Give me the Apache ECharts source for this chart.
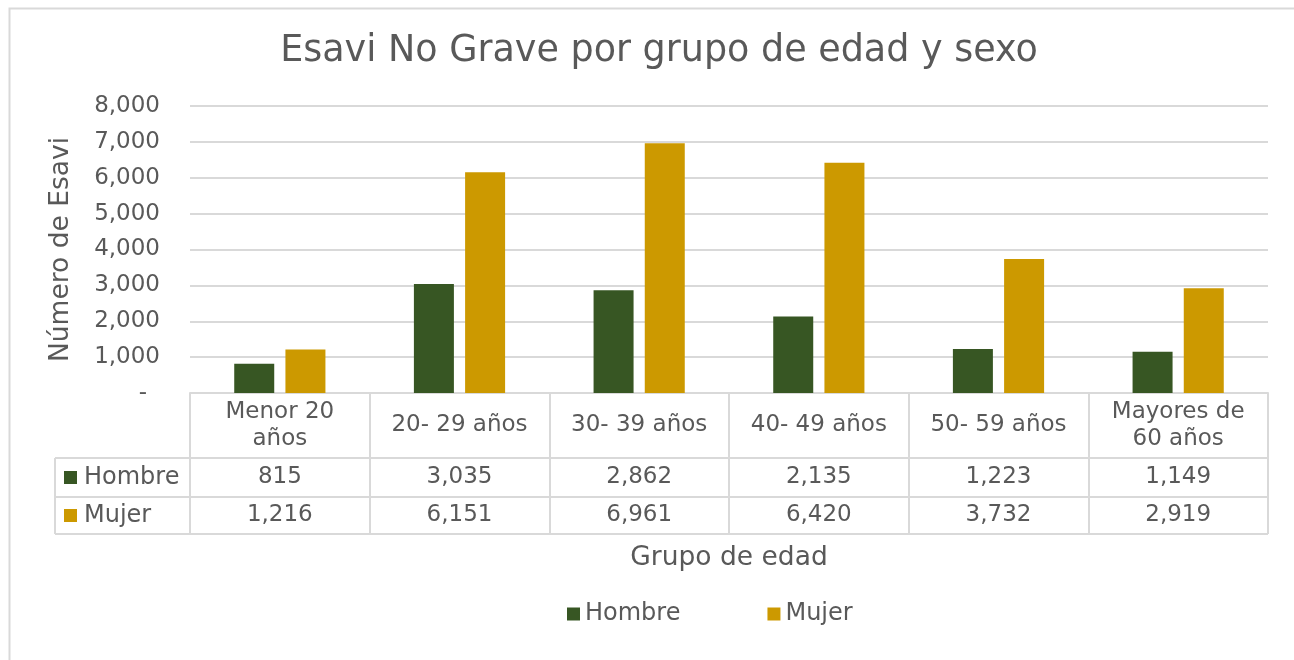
<!DOCTYPE html>
<html>
<head>
<meta charset="utf-8">
<style>
  html, body { margin: 0; padding: 0; background: #fff; }
  #chart { width: 1294px; height: 660px; }
</style>
<script src="https://cdn.jsdelivr.net/npm/echarts@6/dist/echarts.min.js"></script>
</head>
<body>
<div id="chart"></div>
<script>
"use strict";
// ---- data ----
const CATEGORIES = ["Menor 20\naños", "20- 29 años", "30- 39 años", "40- 49 años", "50- 59 años", "Mayores de\n60 años"];
const HOMBRE = [815, 3035, 2862, 2135, 1223, 1149];
const MUJER = [1216, 6151, 6961, 6420, 3732, 2919];
const SERIES_NAMES = ["Hombre", "Mujer"];
const Y_TICKS = { min: 0, max: 8000, step: 1000 };

// ---- look ----
const COLORS = { hombre: "#375623", mujer: "#CC9900", text: "#595959", rule: "#D9D9D9" };
const FONT = "DejaVu Sans";
const W = 1294, H = 660;
const GRID = { left: 190, right: 26, top: 106, bottom: 267 };
const AXIS_Y = H - GRID.bottom;                 // 393
const ROWS = [AXIS_Y, 458, 497, 534];            // table row edges
const TABLE_LEFT = 55;
const fmt = (v) => v.toLocaleString("en-US");

const chart = echarts.init(document.getElementById("chart"), null, { renderer: "canvas" });

// table rules + left-hand legend keys (layout derived from the grid constants)
const right = W - GRID.right;
const rules = ROWS.slice(1).map((y) => ({
  type: "line", shape: { x1: TABLE_LEFT, y1: y, x2: right, y2: y },
  style: { stroke: COLORS.rule, lineWidth: 2 } }));
rules.push({ type: "line", shape: { x1: TABLE_LEFT, y1: ROWS[1], x2: TABLE_LEFT, y2: ROWS[3] },
  style: { stroke: COLORS.rule, lineWidth: 2 } });
const keys = [];
[COLORS.hombre, COLORS.mujer].forEach((c, i) => {
  const cy = (ROWS[i + 1] + ROWS[i + 2]) / 2;
  keys.push({ type: "rect", shape: { x: 64, y: cy - 6.5, width: 13, height: 13 }, style: { fill: c } });
  keys.push({ type: "text", x: 84, y: cy,
    style: { text: SERIES_NAMES[i], fill: COLORS.text, font: `24px "${FONT}"`, verticalAlign: "middle" } });
});

const rowAxis = (values, rowIdx) => ({
  type: "category", data: CATEGORIES, gridIndex: 0, position: "bottom",
  axisLine: { show: false }, axisTick: { show: false },
  axisLabel: { interval: 0, margin: (ROWS[rowIdx] + ROWS[rowIdx + 1]) / 2 - AXIS_Y,
    verticalAlign: "middle", color: COLORS.text, fontFamily: FONT, fontSize: 23,
    formatter: (v, i) => fmt(values[i]) } });

chart.setOption({
  animation: false,
  backgroundColor: "#fff",
  textStyle: { fontFamily: FONT, color: COLORS.text },
  title: { text: "Esavi No Grave por grupo de edad y sexo", left: 654, textAlign: "center", top: 28,
    textStyle: { fontFamily: FONT, fontSize: 36.5, fontWeight: "normal", color: COLORS.text } },
  grid: { left: GRID.left, right: GRID.right, top: GRID.top, bottom: GRID.bottom, containLabel: false },
  legend: { bottom: 29, left: 562, itemWidth: 13, itemHeight: 13, itemGap: 87, icon: "rect",
    textStyle: { fontFamily: FONT, fontSize: 24, color: COLORS.text }, data: SERIES_NAMES },
  xAxis: [
    { type: "category", data: CATEGORIES, gridIndex: 0,
      name: "Grupo de edad", nameLocation: "middle", nameGap: 152,
      nameTextStyle: { fontFamily: FONT, fontSize: 26.5, color: COLORS.text },
      axisLine: { show: true, lineStyle: { color: COLORS.rule, width: 2 } },
      axisTick: { show: true, interval: 0, length: ROWS[3] - AXIS_Y, lineStyle: { color: COLORS.rule, width: 2 } },
      axisLabel: { interval: 0, margin: (ROWS[0] + ROWS[1]) / 2 - AXIS_Y, verticalAlign: "middle",
        lineHeight: 27, color: COLORS.text, fontFamily: FONT, fontSize: 23 } },
    rowAxis(HOMBRE, 1),
    rowAxis(MUJER, 2)],
  yAxis: { type: "value", min: Y_TICKS.min, max: Y_TICKS.max, interval: Y_TICKS.step,
    name: "Número de Esavi", nameLocation: "middle", nameGap: 115,
    nameTextStyle: { fontFamily: FONT, fontSize: 26.5, color: COLORS.text },
    axisLine: { show: false }, axisTick: { show: false },
    splitLine: { lineStyle: { color: COLORS.rule, width: 2 } },
    axisLabel: { margin: 30, color: COLORS.text, fontFamily: FONT, fontSize: 23,
      formatter: (v) => (v === 0 ? "{d|-}" : fmt(v)),
      rich: { d: { padding: [0, 13, 0, 0], fontSize: 23, color: COLORS.text, fontFamily: FONT } } } },
  series: [
    { name: SERIES_NAMES[0], type: "bar", xAxisIndex: 0, data: HOMBRE, barWidth: 40, barGap: "28%",
      itemStyle: { color: COLORS.hombre } },
    { name: SERIES_NAMES[1], type: "bar", xAxisIndex: 0, data: MUJER, barWidth: 40, barGap: "28%",
      itemStyle: { color: COLORS.mujer } }],
  graphic: [
    { type: "rect", shape: { x: 9.5, y: 8.5, width: W + 20, height: H + 20 }, silent: true,
      style: { fill: "none", stroke: COLORS.rule, lineWidth: 2 } },
    ...rules, ...keys],
});
</script>
</body>
</html>
